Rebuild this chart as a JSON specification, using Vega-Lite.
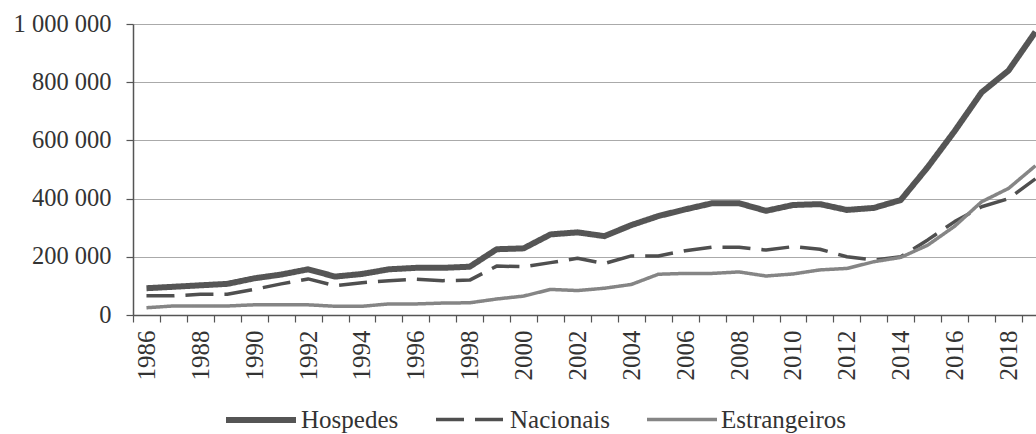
{
  "$schema": "https://vega.github.io/schema/vega-lite/v6.json",
  "autosize": {"type": "none"},
  "width": 903,
  "height": 291,
  "padding": {"left": 133, "top": 24, "right": 0, "bottom": 119},
  "background": "white",
  "config": {
    "view": {"stroke": null},
    "font": "'Liberation Serif', 'Times New Roman', serif",
    "legend": {"labelFont": "'Liberation Serif', 'Times New Roman', serif", "labelFontSize": 25, "labelColor": "#333333", "labelOffset": 2, "columnPadding": 30}
  },
  "datasets": {
    "d": [
      {"year": 1986, "series": "Hospedes", "value": 92000}, {"year": 1986, "series": "Nacionais", "value": 66000}, {"year": 1986, "series": "Estrangeiros", "value": 25000},
      {"year": 1987, "series": "Hospedes", "value": 97000}, {"year": 1987, "series": "Nacionais", "value": 66000}, {"year": 1987, "series": "Estrangeiros", "value": 31000},
      {"year": 1988, "series": "Hospedes", "value": 102000}, {"year": 1988, "series": "Nacionais", "value": 71000}, {"year": 1988, "series": "Estrangeiros", "value": 31000},
      {"year": 1989, "series": "Hospedes", "value": 107000}, {"year": 1989, "series": "Nacionais", "value": 71000}, {"year": 1989, "series": "Estrangeiros", "value": 31000},
      {"year": 1990, "series": "Hospedes", "value": 126000}, {"year": 1990, "series": "Nacionais", "value": 88000}, {"year": 1990, "series": "Estrangeiros", "value": 35000},
      {"year": 1991, "series": "Hospedes", "value": 139000}, {"year": 1991, "series": "Nacionais", "value": 107000}, {"year": 1991, "series": "Estrangeiros", "value": 35000},
      {"year": 1992, "series": "Hospedes", "value": 157000}, {"year": 1992, "series": "Nacionais", "value": 124000}, {"year": 1992, "series": "Estrangeiros", "value": 35000},
      {"year": 1993, "series": "Hospedes", "value": 132000}, {"year": 1993, "series": "Nacionais", "value": 101000}, {"year": 1993, "series": "Estrangeiros", "value": 30000},
      {"year": 1994, "series": "Hospedes", "value": 141000}, {"year": 1994, "series": "Nacionais", "value": 111000}, {"year": 1994, "series": "Estrangeiros", "value": 30000},
      {"year": 1995, "series": "Hospedes", "value": 157000}, {"year": 1995, "series": "Nacionais", "value": 118000}, {"year": 1995, "series": "Estrangeiros", "value": 38000},
      {"year": 1996, "series": "Hospedes", "value": 162000}, {"year": 1996, "series": "Nacionais", "value": 123000}, {"year": 1996, "series": "Estrangeiros", "value": 38000},
      {"year": 1997, "series": "Hospedes", "value": 162000}, {"year": 1997, "series": "Nacionais", "value": 118000}, {"year": 1997, "series": "Estrangeiros", "value": 41000},
      {"year": 1998, "series": "Hospedes", "value": 166000}, {"year": 1998, "series": "Nacionais", "value": 120000}, {"year": 1998, "series": "Estrangeiros", "value": 42000},
      {"year": 1999, "series": "Hospedes", "value": 226000}, {"year": 1999, "series": "Nacionais", "value": 168000}, {"year": 1999, "series": "Estrangeiros", "value": 55000},
      {"year": 2000, "series": "Hospedes", "value": 229000}, {"year": 2000, "series": "Nacionais", "value": 166000}, {"year": 2000, "series": "Estrangeiros", "value": 65000},
      {"year": 2001, "series": "Hospedes", "value": 277000}, {"year": 2001, "series": "Nacionais", "value": 180000}, {"year": 2001, "series": "Estrangeiros", "value": 88000},
      {"year": 2002, "series": "Hospedes", "value": 284000}, {"year": 2002, "series": "Nacionais", "value": 195000}, {"year": 2002, "series": "Estrangeiros", "value": 84000},
      {"year": 2003, "series": "Hospedes", "value": 271000}, {"year": 2003, "series": "Nacionais", "value": 177000}, {"year": 2003, "series": "Estrangeiros", "value": 92000},
      {"year": 2004, "series": "Hospedes", "value": 309000}, {"year": 2004, "series": "Nacionais", "value": 203000}, {"year": 2004, "series": "Estrangeiros", "value": 105000},
      {"year": 2005, "series": "Hospedes", "value": 340000}, {"year": 2005, "series": "Nacionais", "value": 203000}, {"year": 2005, "series": "Estrangeiros", "value": 140000},
      {"year": 2006, "series": "Hospedes", "value": 363000}, {"year": 2006, "series": "Nacionais", "value": 221000}, {"year": 2006, "series": "Estrangeiros", "value": 143000},
      {"year": 2007, "series": "Hospedes", "value": 384000}, {"year": 2007, "series": "Nacionais", "value": 233000}, {"year": 2007, "series": "Estrangeiros", "value": 143000},
      {"year": 2008, "series": "Hospedes", "value": 384000}, {"year": 2008, "series": "Nacionais", "value": 233000}, {"year": 2008, "series": "Estrangeiros", "value": 148000},
      {"year": 2009, "series": "Hospedes", "value": 358000}, {"year": 2009, "series": "Nacionais", "value": 223000}, {"year": 2009, "series": "Estrangeiros", "value": 134000},
      {"year": 2010, "series": "Hospedes", "value": 378000}, {"year": 2010, "series": "Nacionais", "value": 235000}, {"year": 2010, "series": "Estrangeiros", "value": 141000},
      {"year": 2011, "series": "Hospedes", "value": 381000}, {"year": 2011, "series": "Nacionais", "value": 226000}, {"year": 2011, "series": "Estrangeiros", "value": 155000},
      {"year": 2012, "series": "Hospedes", "value": 361000}, {"year": 2012, "series": "Nacionais", "value": 200000}, {"year": 2012, "series": "Estrangeiros", "value": 160000},
      {"year": 2013, "series": "Hospedes", "value": 368000}, {"year": 2013, "series": "Nacionais", "value": 189000}, {"year": 2013, "series": "Estrangeiros", "value": 183000},
      {"year": 2014, "series": "Hospedes", "value": 395000}, {"year": 2014, "series": "Nacionais", "value": 200000}, {"year": 2014, "series": "Estrangeiros", "value": 198000},
      {"year": 2015, "series": "Hospedes", "value": 508000}, {"year": 2015, "series": "Nacionais", "value": 258000}, {"year": 2015, "series": "Estrangeiros", "value": 240000},
      {"year": 2016, "series": "Hospedes", "value": 632000}, {"year": 2016, "series": "Nacionais", "value": 321000}, {"year": 2016, "series": "Estrangeiros", "value": 305000},
      {"year": 2017, "series": "Hospedes", "value": 765000}, {"year": 2017, "series": "Nacionais", "value": 372000}, {"year": 2017, "series": "Estrangeiros", "value": 389000},
      {"year": 2018, "series": "Hospedes", "value": 840000}, {"year": 2018, "series": "Nacionais", "value": 400000}, {"year": 2018, "series": "Estrangeiros", "value": 435000},
      {"year": 2019, "series": "Hospedes", "value": 973000}, {"year": 2019, "series": "Nacionais", "value": 468000}, {"year": 2019, "series": "Estrangeiros", "value": 513000}
    ]
  },
  "data": {"name": "d"},
  "mark": {"type": "line", "strokeCap": "butt", "strokeJoin": "round"},
  "encoding": {
    "x": {
      "field": "year",
      "type": "quantitative",
      "scale": {"domain": [1985.5, 2019.02], "nice": false, "zero": false},
      "axis": {
        "title": null,
        "values": [1985.5, 1986.5, 1987.5, 1988.5, 1989.5, 1990.5, 1991.5, 1992.5, 1993.5, 1994.5, 1995.5, 1996.5, 1997.5, 1998.5, 1999.5, 2000.5, 2001.5, 2002.5, 2003.5, 2004.5, 2005.5, 2006.5, 2007.5, 2008.5, 2009.5, 2010.5, 2011.5, 2012.5, 2013.5, 2014.5, 2015.5, 2016.5, 2017.5, 2018.5],
        "labelExpr": "(datum.value + 0.5) % 2 == 0 ? '' + (datum.value + 0.5) : ''",
        "labelOffset": 13.46,
        "labelAngle": -90,
        "labelAlign": "right",
        "labelBaseline": "middle",
        "labelFlush": false,
        "labelOverlap": false,
        "labelPadding": 8,
        "labelFont": "'Liberation Serif', 'Times New Roman', serif",
        "labelFontSize": 25,
        "labelColor": "#333333",
        "grid": false,
        "domainColor": "#555555",
        "domainWidth": 1.5,
        "tickColor": "#555555",
        "tickWidth": 1.2,
        "tickSize": 7
      }
    },
    "y": {
      "field": "value",
      "type": "quantitative",
      "scale": {"domain": [0, 1000000], "nice": false},
      "axis": {
        "title": null,
        "values": [0, 200000, 400000, 600000, 800000, 1000000],
        "labelExpr": "datum.value == 1000000 ? '1 000 000' : (datum.value == 0 ? '0' : format(datum.value / 1000, 'd') + ' 000')",
        "labelFont": "'Liberation Serif', 'Times New Roman', serif",
        "labelFontSize": 24.5,
        "labelColor": "#333333",
        "labelPadding": 15,
        "grid": true,
        "gridColor": "#aaaaaa",
        "gridWidth": 1.2,
        "domainColor": "#555555",
        "domainWidth": 1.5,
        "tickColor": "#555555",
        "tickWidth": 1.2,
        "tickSize": 7
      }
    },
    "color": {
      "field": "series",
      "type": "nominal",
      "scale": {"domain": ["Hospedes", "Nacionais", "Estrangeiros"], "range": ["#555555", "#4f4f4f", "#858585"]},
      "legend": {
        "title": null,
        "orient": "none",
        "legendX": 90,
        "legendY": 358,
        "direction": "horizontal",
        "symbolType": "stroke",
        "symbolSize": 4900
      }
    },
    "strokeDash": {
      "field": "series",
      "type": "nominal",
      "scale": {"domain": ["Hospedes", "Nacionais", "Estrangeiros"], "range": [[1, 0], [28, 11], [1, 0]]},
      "legend": {"title": null}
    },
    "strokeWidth": {
      "field": "series",
      "type": "nominal",
      "scale": {"type": "ordinal", "domain": ["Hospedes", "Nacionais", "Estrangeiros"], "range": [6, 3.5, 3.5]},
      "legend": {"title": null}
    }
  }
}
